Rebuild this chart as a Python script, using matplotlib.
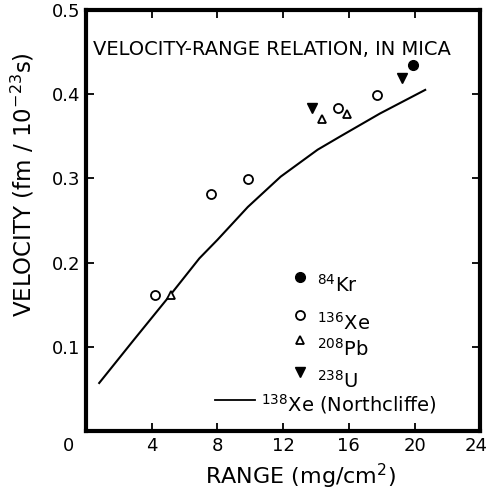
import matplotlib
matplotlib.use("Agg")
import matplotlib.pyplot as plt
import matplotlib.transforms as mtransforms

plt.rcParams['font.family'] = ['DejaVu Sans']
plt.rcParams['mathtext.fontset'] = 'dejavusans'

# --- data ---
kr_x = [19.9]
kr_y = [0.435]
xe_x = [4.2, 7.58, 9.88, 15.37, 17.74]
xe_y = [0.162, 0.281, 0.299, 0.383, 0.399]
pb_x = [5.18, 14.36, 15.86]
pb_y = [0.161, 0.371, 0.376]
u_x = [13.74, 19.25]
u_y = [0.383, 0.419]

# 138Xe (Northcliffe) curve
nc_x = [0.8, 2.9, 5.15, 6.9, 8.0, 9.85, 11.85, 14.1, 15.5, 17.9, 20.65]
nc_y = [0.057, 0.108, 0.162, 0.205, 0.227, 0.266, 0.302, 0.334, 0.350, 0.377, 0.405]

x_ticks = [0, 4, 8, 12, 16, 20, 24]
y_ticks = [0.1, 0.2, 0.3, 0.4, 0.5]

fig = plt.figure(figsize=(4.89, 4.94), dpi=100)
ax = fig.add_axes([0.176, 0.1275, 0.806, 0.8525])

ax.plot(nc_x, nc_y, color='black', lw=1.5)
ax.plot(kr_x, kr_y, 'o', color='black', ms=7)
ax.plot(xe_x, xe_y, 'o', mfc='white', mec='black', mew=1.3, ms=6.5)
ax.plot(pb_x, pb_y, '^', mfc='white', mec='black', mew=1.3, ms=6)
ax.plot(u_x, u_y, 'v', color='black', ms=6.5)

ax.set_xlim(0, 24)
ax.set_ylim(0, 0.5)
ax.set_xticks(x_ticks)
ax.set_xticklabels(['0', '4', '8', '12', '16', '20', '24'])
ax.set_yticks(y_ticks)
ax.set_yticklabels(['0.1', '0.2', '0.3', '0.4', '0.5'])
ax.tick_params(direction='in', length=6, width=1.3, labelsize=13,
               top=True, right=True, pad=4)
# origin label sits left of the corner, last one pulled in from the edge
xlbls = ax.get_xticklabels()
for lbl, dx in [(xlbls[0], -0.18), (xlbls[-1], -0.04)]:
    lbl.set_transform(lbl.get_transform() +
                      mtransforms.ScaledTranslation(dx, 0, fig.dpi_scale_trans))
for s in ax.spines.values():
    s.set_linewidth(3)

ax.set_xlabel('RANGE (mg/cm$^2$)', fontsize=16)
ax.xaxis.set_label_coords(0.545, -0.072)
ax.set_ylabel('VELOCITY (fm / 10$^{-23}$s)', fontsize=16.5)
ax.yaxis.set_label_coords(-0.125, 0.585)

ax.text(0.018, 0.905, 'VELOCITY-RANGE RELATION, IN MICA', transform=ax.transAxes,
        fontsize=14, va='center', ha='left')

# hand-made key
key_y = [0.366, 0.276, 0.216, 0.140]
key_lab = ['$^{84}$Kr', '$^{136}$Xe', '$^{208}$Pb', '$^{238}$U']
key_sty = [dict(marker='o', color='black', ms=7),
           dict(marker='o', mfc='white', mec='black', mew=1.3, ms=6.5),
           dict(marker='^', mfc='white', mec='black', mew=1.3, ms=6),
           dict(marker='v', color='black', ms=6.5)]
for ky, kl, ks in zip(key_y, key_lab, key_sty):
    ax.plot([0.543], [ky], transform=ax.transAxes, ls='none', **ks)
    ax.text(0.585, ky - 0.02, kl, transform=ax.transAxes, fontsize=14, va='center')
ax.plot([0.327, 0.429], [0.074, 0.074], transform=ax.transAxes, color='black', lw=1.3)
ax.text(0.445, 0.064, '$^{138}$Xe (Northcliffe)', transform=ax.transAxes,
        fontsize=14, va='center')

fig.savefig('out.png', dpi=100)
